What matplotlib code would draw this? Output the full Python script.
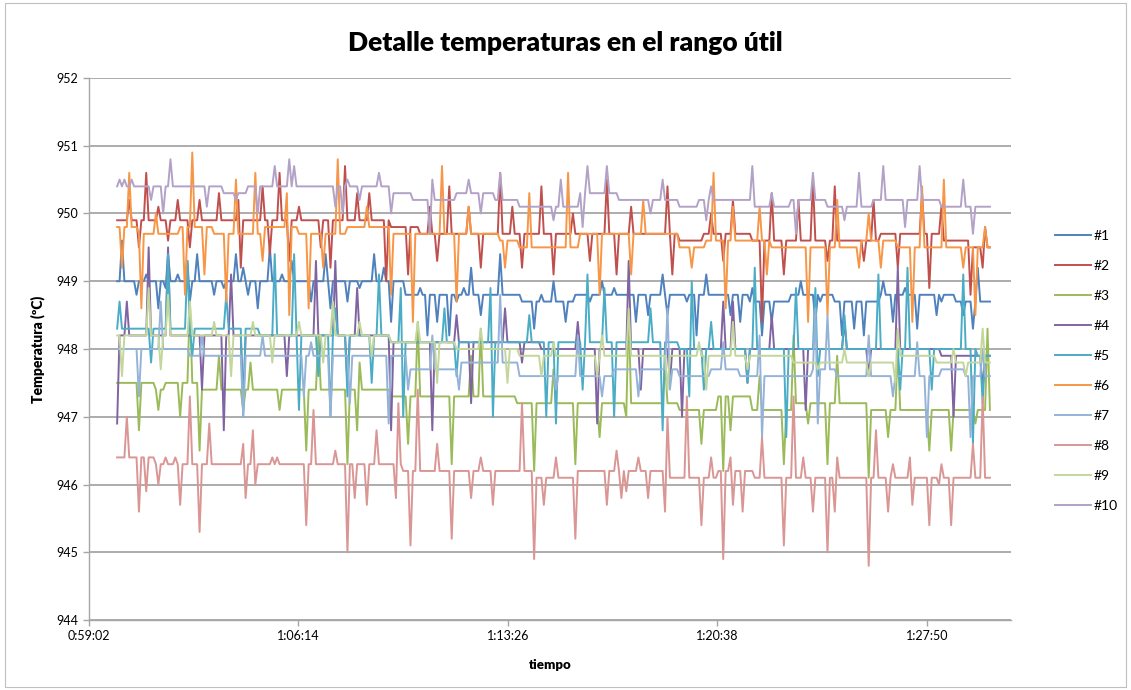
import numpy as np
import matplotlib
matplotlib.use("Agg")
import matplotlib.pyplot as plt
from matplotlib.patches import Rectangle

plt.rcParams['font.family'] = ['Lato', 'DejaVu Sans']

# muestras cada 5 s desde 1:00:00 hasta 1:30:00
t_start = 3600
step = 5
n = 361

names = ['#1', '#2', '#3', '#4', '#5', '#6', '#7', '#8', '#9', '#10']
colors = ['#4f81bd', '#c0504d', '#9bbb59', '#8064a2', '#4bacc6',
          '#f79646', '#95b3d7', '#d99694', '#c3d69b', '#b3a2c7']

# nivel estable: (muestra inicial, temperatura)
# picos: (muestra, temperatura)
levels_1 = [(0, 949.0), (119, 948.8), (167, 948.7), (189, 948.8), (261, 948.7),
            (278, 948.8), (296, 948.7), (315, 948.8), (346, 948.7)]
spikes_1 = [(2, 949.6), (12, 949.1), (21, 949.4), (29, 949.3), (33, 949.4), (49, 949.4),
            (52, 949.2), (63, 949.5), (72, 949.3), (86, 949.4), (106, 949.4), (110, 949.2),
            (146, 949.2), (158, 949.4), (180, 949.0), (200, 949.0), (225, 949.1), (243, 949.1),
            (282, 949.0), (316, 949.0), (355, 949.2), (325, 948.9), (262, 948.9),
            (8, 948.8), (17, 948.6), (30, 948.7), (40, 948.8), (54, 948.8), (58, 948.6),
            (80, 948.7), (88, 948.6), (95, 948.7), (113, 948.4), (128, 948.2), (132, 948.4),
            (137, 948.2), (150, 948.5), (172, 948.3), (185, 948.4), (214, 948.4), (219, 948.5),
            (227, 948.5), (239, 948.2), (253, 948.5), (257, 948.4), (266, 948.2), (270, 948.4),
            (288, 948.4), (299, 948.2), (304, 948.3), (308, 948.2), (320, 948.4), (330, 948.3),
            (338, 948.5), (349, 948.5), (353, 948.3),
            (20, 948.9), (25, 949.1), (44, 948.9), (68, 949.1), (100, 948.9), (125, 948.9),
            (140, 948.7), (143, 948.9), (175, 948.8), (195, 948.7), (205, 948.9), (235, 948.7),
            (290, 948.7), (340, 948.7)]

levels_2 = [(0, 949.9), (113, 949.8), (125, 949.7), (232, 949.6), (242, 949.7),
            (262, 949.6), (315, 949.7), (340, 949.6), (352, 949.5)]
spikes_2 = [(5, 950.2), (12, 950.6), (17, 950.1), (25, 950.2), (34, 950.2), (42, 950.3),
            (50, 950.2), (60, 950.4), (67, 950.6), (75, 950.1), (94, 950.7), (99, 950.3),
            (104, 950.3), (129, 950.1), (137, 950.4), (145, 950.1), (158, 950.6), (163, 950.1),
            (175, 950.4), (188, 950.0), (202, 950.5), (212, 950.1), (227, 950.4), (245, 950.0),
            (254, 950.2), (270, 950.3), (281, 950.2), (287, 950.5), (296, 950.4), (312, 950.2),
            (332, 950.3), (340, 950.1), (358, 949.8),
            (9, 949.5), (21, 949.6), (30, 949.5), (51, 949.2), (63, 949.4), (71, 949.3),
            (84, 949.5), (88, 949.2), (111, 949.0), (120, 949.1), (132, 949.3), (150, 949.2),
            (167, 949.2), (180, 949.1), (195, 949.3), (206, 949.1), (229, 949.1), (250, 949.3),
            (266, 948.4), (275, 949.1), (293, 949.3), (308, 949.3), (322, 949.2), (335, 948.9),
            (352, 948.8), (357, 949.2)]

levels_3 = [(0, 947.5), (16, 947.4), (20, 947.5), (34, 947.4), (113, 947.3), (165, 947.2),
            (232, 947.1), (248, 947.3), (262, 947.1), (280, 947.2), (310, 947.1)]
spikes_3 = [(9, 946.8), (17, 947.1), (26, 947.0), (34, 946.5), (52, 947.1), (67, 947.1),
            (78, 946.5), (95, 946.3), (99, 946.8), (120, 946.6), (138, 946.3), (172, 946.2),
            (189, 946.3), (199, 946.7), (210, 947.0), (241, 946.6), (250, 946.2), (253, 946.8),
            (275, 946.3), (285, 946.9), (293, 946.3), (310, 946.1), (318, 946.7), (335, 946.5),
            (344, 946.5), (354, 946.9),
            (30, 948.7), (42, 947.9), (55, 947.8), (83, 948.2), (100, 947.8), (124, 948.4),
            (146, 947.9), (150, 948.3), (180, 947.7), (211, 948.6), (279, 948.2), (297, 947.9),
            (359, 948.3), (226, 947.8), (265, 947.6), (322, 948.0)]

levels_4 = [(0, 948.2), (113, 948.1), (175, 948.0), (340, 947.9)]
spikes_4 = [(13, 949.5), (21, 949.5), (4, 948.7), (47, 949.1), (82, 949.3), (90, 949.3),
            (99, 948.9), (211, 949.3), (322, 949.2), (250, 948.7), (254, 948.7), (140, 948.5),
            (160, 948.6), (270, 948.5), (300, 948.4), (190, 948.4),
            (0, 946.9), (35, 947.4), (44, 946.8), (52, 947.2), (113, 946.8), (130, 946.8),
            (146, 947.2), (167, 947.8), (198, 946.9), (216, 947.4), (228, 947.5), (233, 947.0),
            (284, 947.1), (345, 947.0), (357, 947.4), (70, 947.6), (95, 947.5), (260, 947.5),
            (310, 947.6)]

levels_5 = [(0, 948.3), (59, 948.2), (113, 948.1), (232, 948.0), (355, 947.9)]
spikes_5 = [(1, 948.7), (21, 949.4), (29, 949.3), (65, 949.4), (73, 949.4), (108, 949.1),
            (117, 948.9), (135, 948.6), (154, 948.9), (194, 949.1), (201, 948.9), (237, 949.0),
            (263, 949.2), (280, 948.9), (288, 948.9), (314, 949.1), (326, 949.2), (349, 949.1),
            (45, 948.8), (90, 948.6), (170, 948.5), (220, 948.6), (245, 948.4), (300, 948.5),
            (14, 947.8), (31, 947.9), (52, 947.0), (75, 947.1), (83, 947.6), (88, 947.0),
            (95, 947.3), (118, 947.0), (155, 947.0), (177, 947.0), (181, 946.9), (192, 947.4),
            (205, 947.0), (225, 946.8), (236, 947.3), (242, 947.4), (276, 946.7), (289, 947.6),
            (323, 947.4), (336, 947.4), (353, 946.6), (357, 947.2), (105, 947.5), (140, 947.6),
            (260, 947.5)]

levels_6 = [(0, 949.8), (9, 949.7), (26, 949.8), (40, 949.7), (60, 949.8), (75, 949.7),
            (95, 949.8), (113, 949.7), (158, 949.6), (166, 949.5), (191, 949.7), (232, 949.5),
            (243, 949.6), (270, 949.5), (306, 949.6), (322, 949.5)]
spikes_6 = [(5, 950.6), (31, 950.9), (49, 950.5), (57, 950.6), (91, 950.8), (134, 950.7),
            (186, 950.6), (246, 950.6), (254, 950.1), (297, 950.2), (332, 950.4), (341, 950.5),
            (358, 949.8), (16, 950.0), (70, 950.3), (103, 950.1), (145, 950.1), (170, 950.3),
            (217, 950.2), (265, 950.1), (310, 950.0),
            (2, 949.2), (10, 948.6), (28, 948.8), (36, 949.1), (45, 948.7), (71, 948.5),
            (79, 948.6), (113, 948.8), (122, 948.4), (140, 948.7), (199, 948.8), (237, 949.2),
            (251, 948.6), (268, 949.1), (285, 948.4), (293, 948.5), (306, 949.2), (315, 949.2),
            (328, 948.4), (349, 949.2), (354, 948.5), (60, 949.3), (85, 949.2), (160, 949.2),
            (212, 949.1)]

levels_7 = [(0, 948.0), (30, 947.9), (120, 947.7), (141, 947.8), (166, 947.6), (205, 947.7),
            (232, 947.6), (245, 947.7), (257, 947.6), (287, 947.7), (297, 947.6), (340, 947.7),
            (350, 947.6)]
spikes_7 = [(18, 948.7), (35, 948.2), (60, 948.2), (80, 948.1), (158, 948.8), (227, 948.6),
            (288, 948.6), (293, 948.5), (130, 948.2), (190, 948.2), (250, 948.1), (265, 948.2),
            (310, 948.2), (330, 948.1), (357, 948.0),
            (9, 947.3), (52, 947.0), (77, 947.3), (88, 947.0), (96, 947.2), (112, 946.9),
            (120, 947.4), (141, 947.4), (181, 947.4), (228, 947.4), (266, 946.7), (289, 946.9),
            (334, 946.7), (352, 946.7), (200, 947.3), (215, 947.3), (320, 947.3)]

levels_8 = [(0, 946.4), (16, 946.3), (118, 946.2), (172, 946.1), (189, 946.2), (226, 946.1),
            (248, 946.2), (263, 946.1)]
spikes_8 = [(4, 947.0), (30, 947.3), (38, 946.9), (52, 946.6), (56, 946.8), (81, 947.1),
            (107, 946.8), (116, 947.2), (124, 947.4), (132, 946.6), (150, 946.4), (167, 947.2),
            (181, 946.4), (206, 946.5), (227, 947.0), (235, 947.3), (245, 946.4), (253, 946.4),
            (266, 946.7), (279, 947.3), (283, 946.4), (297, 946.4), (313, 946.8), (327, 946.4),
            (353, 946.6), (357, 947.3), (64, 946.4), (66, 946.4), (90, 946.5), (215, 946.4),
            (320, 946.3), (340, 946.3), (20, 946.4), (24, 946.4),
            (9, 945.6), (12, 945.9), (17, 946.0), (26, 945.7), (34, 945.3), (53, 945.8),
            (57, 946.0), (78, 945.4), (95, 945.0), (98, 945.8), (103, 945.7), (115, 945.8),
            (121, 945.1), (138, 945.2), (146, 945.8), (155, 945.7), (172, 944.9), (176, 945.7),
            (189, 945.2), (202, 945.7), (208, 945.8), (210, 945.9), (219, 945.8), (226, 945.6),
            (241, 945.4), (250, 944.9), (254, 945.7), (258, 945.6), (275, 945.1), (287, 945.6),
            (293, 945.0), (296, 945.6), (310, 944.8), (318, 945.6), (328, 945.7), (335, 945.4),
            (339, 946.0), (344, 945.4)]

levels_9 = [(0, 948.2), (113, 948.1), (140, 948.0), (166, 947.9), (279, 947.8), (323, 947.9),
            (338, 947.8)]
spikes_9 = [(13, 948.9), (21, 948.8), (30, 948.7), (56, 948.4), (89, 948.7), (124, 948.4),
            (150, 948.3), (211, 948.6), (254, 948.4), (322, 948.3), (357, 948.3), (40, 948.4),
            (75, 948.4), (100, 948.4), (180, 948.1), (200, 948.2), (240, 948.1), (300, 948.0),
            (345, 948.0),
            (2, 947.6), (18, 947.7), (47, 947.6), (64, 947.8), (85, 947.8), (132, 947.5),
            (161, 947.5), (198, 947.6), (227, 947.4), (243, 947.4), (289, 947.7), (321, 947.5),
            (105, 947.9), (175, 947.6), (260, 947.7), (310, 947.6), (350, 947.6)]

levels_10 = [(0, 950.4), (44, 950.3), (54, 950.4), (113, 950.3), (122, 950.2), (140, 950.3),
             (156, 950.2), (166, 950.1), (191, 950.3), (207, 950.2), (232, 950.1), (240, 950.2),
             (262, 950.1), (278, 950.2), (293, 950.1), (312, 950.2), (340, 950.1)]
spikes_10 = [(1, 950.5), (3, 950.5), (6, 950.5), (22, 950.8), (65, 950.7), (73, 950.7),
             (108, 950.6), (71, 950.8), (158, 950.6), (183, 950.5), (194, 950.7), (202, 950.7),
             (225, 950.5), (262, 950.7), (287, 950.6), (306, 950.6), (316, 950.7), (331, 950.7),
             (349, 950.5), (95, 950.5), (130, 950.5), (145, 950.5), (245, 950.4), (270, 950.3),
             (300, 950.3),
             (14, 950.2), (19, 950.0), (49, 950.2), (58, 950.0), (90, 950.1), (93, 950.0),
             (113, 950.0), (129, 949.7), (180, 949.9), (192, 949.8), (243, 949.9), (280, 949.7),
             (353, 949.7), (37, 950.1), (100, 950.2), (150, 950.0), (220, 950.0), (300, 949.9),
             (325, 949.8)]

all_levels = [levels_1, levels_2, levels_3, levels_4, levels_5,
              levels_6, levels_7, levels_8, levels_9, levels_10]
all_spikes = [spikes_1, spikes_2, spikes_3, spikes_4, spikes_5,
              spikes_6, spikes_7, spikes_8, spikes_9, spikes_10]


def build(levels, spikes):
    y = np.empty(n)
    for k, (start, val) in enumerate(levels):
        end = levels[k + 1][0] if k + 1 < len(levels) else n
        y[start:end] = val
    for i, v in spikes:
        y[i] = v
    return y


t = t_start + step * np.arange(n)

fig = plt.figure(figsize=(11.31, 6.90), dpi=100)
ax = fig.add_axes([0.0787, 0.1014, 0.815, 0.7856])

for name, col, lv, sp in zip(names, colors, all_levels, all_spikes):
    ax.plot(t, build(lv, sp), color=col, lw=1.4, label=name)

x0 = 3542  # 0:59:02
tick_step = 432
ax.set_xlim(x0, x0 + 1901)
ax.set_ylim(944, 952)
xt = [x0 + k * tick_step for k in range(5)]
ax.set_xticks(xt)
ax.set_xticklabels(['%d:%02d:%02d' % (s // 3600, (s % 3600) // 60, s % 60) for s in xt])
ax.set_yticks(range(944, 953))

ax.grid(axis='y', color='#a6a6a6', lw=1.3)
ax.set_axisbelow(True)
for s in ['top', 'right']:
    ax.spines[s].set_visible(False)
for s in ['left', 'bottom']:
    ax.spines[s].set_color('#a6a6a6')
    ax.spines[s].set_linewidth(1.0)
ax.tick_params(colors='#a6a6a6', labelcolor='black', labelsize=9, length=4, width=1)

# título centrado en la figura, no en los ejes
fig.text(0.5, 0.938, 'Detalle temperaturas en el rango útil', ha='center', va='center',
         fontsize=19, fontweight='heavy')
ax.set_xlabel('tiempo', fontsize=9.5, fontweight='heavy', labelpad=12)
ax.set_ylabel('Temperatura (ºC)', fontsize=10, fontweight='heavy', labelpad=8)

fig.legend(loc='upper left', bbox_to_anchor=(0.928, 0.675), frameon=False, fontsize=10,
           handlelength=2.6, handletextpad=0.2, labelspacing=1.3, borderaxespad=0)

fig.patches.append(Rectangle((0.004, 0.004), 0.992, 0.992, transform=fig.transFigure,
                             fill=False, edgecolor='#bfbfbf', lw=0.8))

fig.savefig('out.png', dpi=100)
